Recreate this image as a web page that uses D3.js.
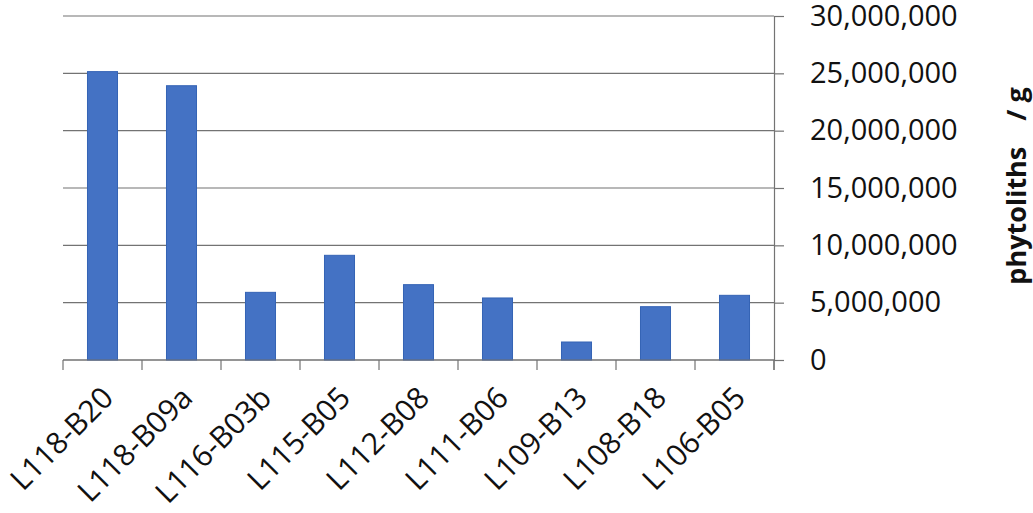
<!DOCTYPE html>
<html lang="en">
  <head>
    <meta charset="utf-8">
    <script src="https://d3js.org/d3.v7.min.js"></script>
    <style>
    body { margin: 0; background: #fff; }
    text { font-family: "Open Sans", sans-serif; fill: #111; }
    </style>
  </head>
  <body>
    <div id="place"></div>
    <script type="text/javascript">
    // chart values
    var samples = ["L118-B20", "L118-B09a", "L116-B03b", "L115-B05", "L112-B08",
                   "L111-B06", "L109-B13", "L108-B18", "L106-B05"];
    var phytolithsPerGram = [25150000, 23920000, 5900000, 9130000, 6570000,
                             5410000, 1570000, 4650000, 5640000];
    var yTicks = [0, 5000000, 10000000, 15000000, 20000000, 25000000, 30000000];
    var yTitle = "phytoliths";
    var yUnit = "/ g";

    var width = 1033, height = 513;
    var plot = { left: 63, right: 774, top: 16, bottom: 360 };
    var lineCol = '#737373';

    var svg = d3.select('#place').append('svg')
      .attr('width', width)
      .attr('height', height);

    var x = d3.scaleBand()
      .domain(samples)
      .range([plot.left, plot.right])
      .paddingInner(0.62)
      .paddingOuter(0.31);

    var y = d3.scaleLinear()
      .domain([0, 30000000])
      .range([plot.bottom, plot.top]);

    // gridlines
    svg.append('g')
      .selectAll('line')
      .data(yTicks)
      .enter().append('line')
        .attr('x1', plot.left)
        .attr('x2', plot.right)
        .attr('y1', d => y(d))
        .attr('y2', d => y(d))
        .attr('stroke', lineCol)
        .attr('stroke-width', 1.2);

    // bars
    svg.append('g')
      .selectAll('rect')
      .data(samples)
      .enter().append('rect')
        .attr('x', d => x(d))
        .attr('y', (d, i) => y(phytolithsPerGram[i]))
        .attr('width', x.bandwidth())
        .attr('height', (d, i) => y(0) - y(phytolithsPerGram[i]))
        .attr('fill', '#4472c4')
        .attr('stroke', '#3563b5')
        .attr('stroke-width', 1);

    // x axis line + ticks at category boundaries
    var bounds = d3.range(samples.length + 1).map(i => plot.left + i * x.step());
    var xAxis = svg.append('g');
    xAxis.append('line')
      .attr('x1', plot.left).attr('x2', plot.right)
      .attr('y1', y(0)).attr('y2', y(0))
      .attr('stroke', lineCol).attr('stroke-width', 1.2);
    xAxis.selectAll('line.tick')
      .data(bounds)
      .enter().append('line')
        .attr('class', 'tick')
        .attr('x1', d => d).attr('x2', d => d)
        .attr('y1', y(0)).attr('y2', y(0) + 10)
        .attr('stroke', lineCol).attr('stroke-width', 1.2);

    // category labels, rotated
    xAxis.selectAll('text')
      .data(samples)
      .enter().append('text')
        .attr('transform', d => `translate(${x(d) + x.bandwidth() / 2 + 7},${y(0) + 34}) rotate(-45)`)
        .attr('text-anchor', 'end')
        .attr('dominant-baseline', 'middle')
        .style('font-size', '30px')
        .text(d => d);

    // right y axis
    var yAxis = svg.append('g')
      .attr('transform', `translate(${plot.right},0)`)
      .call(d3.axisRight(y)
        .tickValues(yTicks)
        .tickSize(10)
        .tickSizeOuter(0)
        .tickPadding(26)
        .tickFormat(d3.format(',')));
    yAxis.select('.domain').attr('stroke', lineCol).attr('stroke-width', 1.2);
    yAxis.selectAll('.tick line').attr('stroke', lineCol).attr('stroke-width', 1.2);
    yAxis.selectAll('.tick text')
      .style('font-family', '"Open Sans", sans-serif')
      .style('font-size', '29px')
      .attr('fill', '#111');
    // extend the axis line down to the tick length
    yAxis.append('line')
      .attr('x1', 0).attr('x2', 0)
      .attr('y1', y(0)).attr('y2', y(0) + 10)
      .attr('stroke', lineCol).attr('stroke-width', 1.2);

    // axis title
    var title = svg.append('text')
      .attr('transform', `translate(1017,186) rotate(-90)`)
      .attr('text-anchor', 'middle')
      .attr('dy', '0.35em')
      .style('font-size', '27px')
      .style('font-weight', 'bold');
    title.append('tspan').text(yTitle);
    title.append('tspan').attr('dx', 26).text(yUnit);
    </script>
  </body>
</html>
